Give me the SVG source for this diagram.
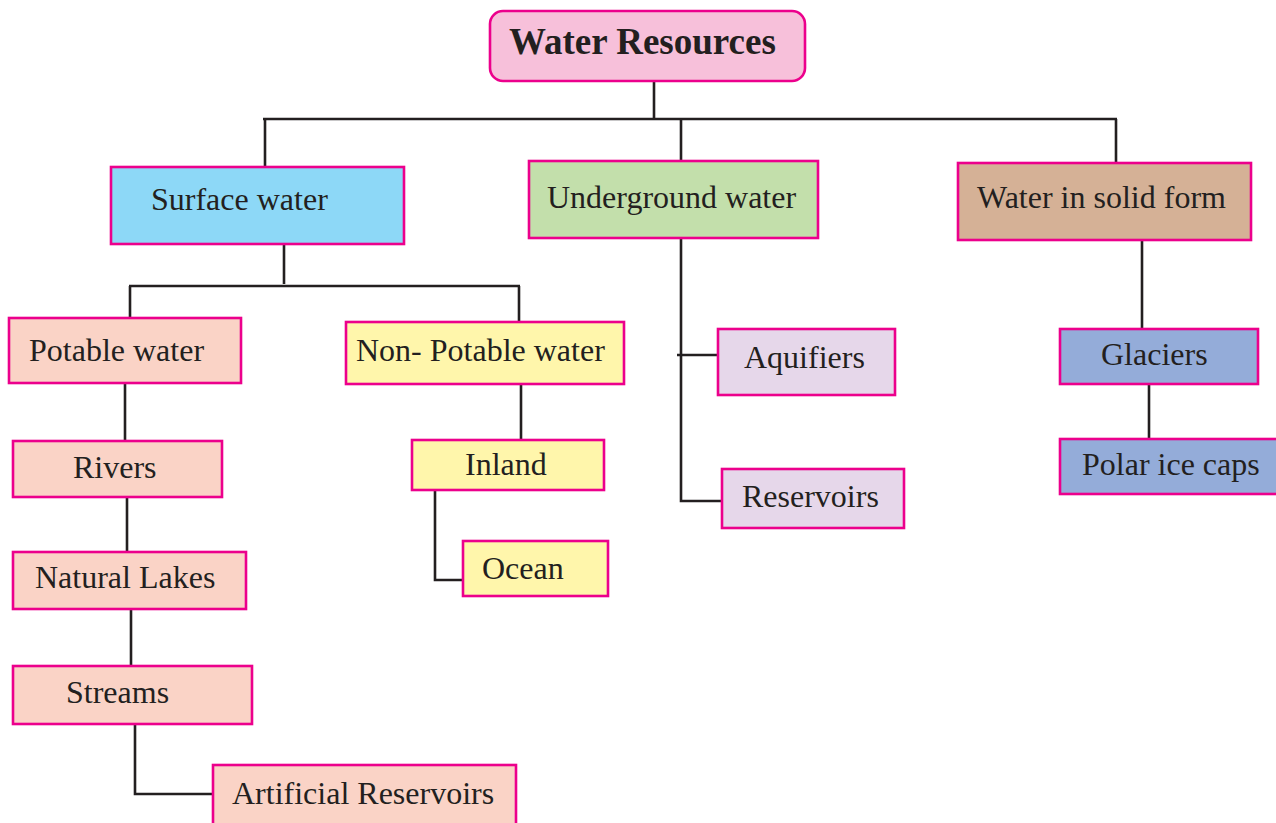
<svg xmlns="http://www.w3.org/2000/svg" width="1276" height="823" viewBox="0 0 1276 823">
<style>
.box{stroke:#ec008c;stroke-width:2.6}
.t{font-family:"Liberation Serif","Times New Roman",serif;font-size:32px;fill:#231f20}
.tb{font-family:"Liberation Serif","Times New Roman",serif;font-size:37px;font-weight:bold;fill:#231f20}
.c{fill:none;stroke:#231f20;stroke-width:2.6}
.pink{fill:#f7c0da}.blue{fill:#8dd8f7}.green{fill:#c3dfab}.brown{fill:#d5b196}
.peach{fill:#fad3c6}.yellow{fill:#fff6ab}.lav{fill:#e6d7ea}.gblue{fill:#94acd9}
</style>
<rect width="1276" height="823" fill="#ffffff"/>
<g id="connectors">
<path class="c" d="M654,81 V118"/>
<path class="c" d="M263,119 H1117"/>
<path class="c" d="M265,119 V167"/>
<path class="c" d="M681,119 V160"/>
<path class="c" d="M1116,119 V163"/>
<path class="c" d="M284,244 V284"/>
<path class="c" d="M129,286 H520"/>
<path class="c" d="M130,286 V323"/>
<path class="c" d="M519,286 V321"/>
<path class="c" d="M125,383 V441"/>
<path class="c" d="M127,497 V552"/>
<path class="c" d="M131,609 V666"/>
<path class="c" d="M135,724 V794 H213"/>
<path class="c" d="M521,384 V440"/>
<path class="c" d="M435,490 V580 H463"/>
<path class="c" d="M681,238 V501 H722"/>
<path class="c" d="M677,355 H718"/>
<path class="c" d="M1142,240 V330"/>
<path class="c" d="M1149,382 V439"/>
</g>
<g id="water-resources"><rect class="box pink" x="490" y="11" width="315" height="70" rx="13"/><text class="tb" x="509" y="54">Water Resources</text></g>
<g id="surface-water"><rect class="box blue" x="111" y="167" width="293" height="77"/><text class="t" x="151" y="210">Surface water</text></g>
<g id="underground-water"><rect class="box green" x="529" y="161" width="289" height="77"/><text class="t" x="547" y="208">Underground water</text></g>
<g id="solid-water"><rect class="box brown" x="958" y="163" width="293" height="77"/><text class="t" x="977" y="208">Water in solid form</text></g>
<g id="potable"><rect class="box peach" x="9" y="318" width="232" height="65"/><text class="t" x="29" y="361">Potable water</text></g>
<g id="non-potable"><rect class="box yellow" x="346" y="322" width="278" height="62"/><text class="t" x="356" y="361">Non- Potable water</text></g>
<g id="aquifiers"><rect class="box lav" x="718" y="329" width="177" height="66"/><text class="t" x="744" y="368">Aquifiers</text></g>
<g id="glaciers"><rect class="box gblue" x="1060" y="329" width="198" height="55"/><text class="t" x="1101" y="365">Glaciers</text></g>
<g id="rivers"><rect class="box peach" x="13" y="441" width="209" height="56"/><text class="t" x="73" y="478">Rivers</text></g>
<g id="inland"><rect class="box yellow" x="412" y="440" width="192" height="50"/><text class="t" x="465" y="475">Inland</text></g>
<g id="polar"><rect class="box gblue" x="1060" y="439" width="230" height="55"/><text class="t" x="1082" y="475">Polar ice caps</text></g>
<g id="reservoirs"><rect class="box lav" x="722" y="469" width="182" height="59"/><text class="t" x="742" y="507">Reservoirs</text></g>
<g id="natural-lakes"><rect class="box peach" x="13" y="552" width="233" height="57"/><text class="t" x="35" y="588">Natural Lakes</text></g>
<g id="ocean"><rect class="box yellow" x="463" y="541" width="145" height="55"/><text class="t" x="482" y="579">Ocean</text></g>
<g id="streams"><rect class="box peach" x="13" y="666" width="239" height="58"/><text class="t" x="66" y="703">Streams</text></g>
<g id="artificial-reservoirs"><rect class="box peach" x="213" y="765" width="303" height="70"/><text class="t" x="232" y="804">Artificial Reservoirs</text></g>
</svg>
